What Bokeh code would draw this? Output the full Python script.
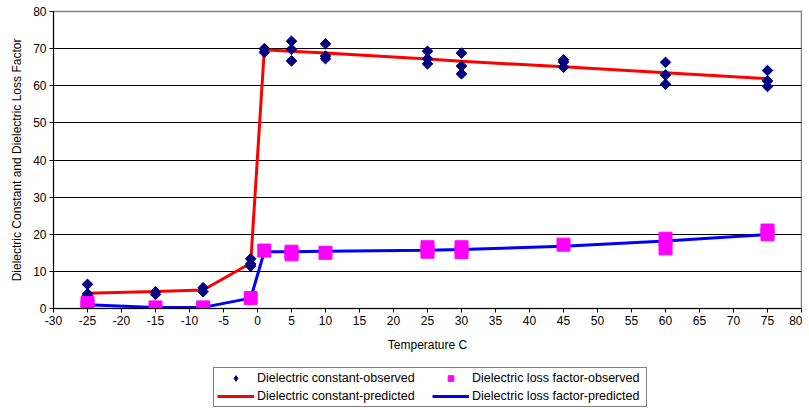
from bokeh.plotting import figure
from bokeh.layouts import column
from bokeh.models import Legend, LegendItem, FixedTicker, Range1d
from bokeh.embed import file_html
from bokeh.resources import INLINE

# observed dielectric constant (temperature, value)
obs_const_t = [-25, -25, -25, -15, -15, -8, -8, -1, -1, -1, 1, 1,
               5, 5, 5, 10, 10, 10, 25, 25, 25, 30, 30, 30,
               45, 45, 45, 60, 60, 60, 75, 75, 75]
obs_const_v = [6.5, 4.0, 3.5, 4.5, 3.8, 5.6, 4.5, 13.4, 12.0, 11.4, 70.0, 69.0,
               72.0, 69.8, 66.7, 71.3, 68.0, 67.3, 69.3, 67.3, 65.9, 68.8, 65.3, 63.2,
               67.0, 66.4, 65.0, 66.3, 62.9, 60.4, 64.1, 61.3, 59.8]

# observed dielectric loss factor
obs_loss_t = [-25, -25, -15, -8, -1, 1, 5, 5, 10, 25, 25, 30, 30, 45, 60, 60, 75, 75]
obs_loss_v = [1.5, 0.5, 0.3, 0.3, 2.8, 15.6, 15.3, 14.6, 15.0, 16.5, 15.3, 16.5, 15.2,
              17.2, 18.8, 16.2, 21.0, 20.0]

# predicted curves
pred_t = [-25, -15, -8, -1, 1, 5, 10, 25, 30, 45, 60, 75]
pred_const = [4.1, 4.6, 5.0, 12.2, 69.7, 69.3, 68.8, 67.2, 66.6, 65.1, 63.5, 61.9]
pred_loss = [1.0, 0.3, 0.3, 2.8, 15.3, 15.3, 15.4, 15.7, 15.9, 16.8, 18.2, 19.9]

legend_labels = ["Dielectric constant-observed", "Dielectric loss factor-observed",
                 "Dielectric constant-predicted", "Dielectric loss factor-predicted"]

x_ticks = list(range(-30, 85, 5))
y_ticks = list(range(0, 90, 10))
x_tick_labels = {t: str(t) for t in x_ticks}
y_tick_labels = {t: str(t) for t in y_ticks}

FONT = "Liberation Sans"
NAVY, MAGENTA, RED, BLUE = "#000080", "#FF00FF", "#FF0000", "#0000FF"

p = figure(frame_width=748, frame_height=297, output_backend="svg", toolbar_location=None,
           x_range=Range1d(-30, 80), y_range=Range1d(0, 80),
           min_border_left=53, min_border_right=1, min_border_top=11, min_border_bottom=46)

p.outline_line_color = "#808080"
p.outline_line_width = 1.5
p.xgrid.grid_line_color = None
p.ygrid.grid_line_color = "#000000"
p.ygrid.grid_line_width = 1

p.xaxis.ticker = FixedTicker(ticks=x_ticks)
p.yaxis.ticker = FixedTicker(ticks=y_ticks)
p.xaxis.major_label_overrides = x_tick_labels
p.yaxis.major_label_overrides = y_tick_labels
for ax in (p.xaxis[0], p.yaxis[0]):
    ax.axis_line_color = "#000000"
    ax.major_tick_line_color = "#000000"
    ax.major_tick_out = 4
    ax.major_tick_in = 0
    ax.minor_tick_line_color = None
    ax.major_label_text_font = FONT
    ax.major_label_text_font_size = "12px"
    ax.major_label_text_color = "#000000"
    ax.axis_label_text_font = FONT
    ax.axis_label_text_font_size = "12px"
    ax.axis_label_text_font_style = "normal"
    ax.axis_label_text_color = "#000000"

p.xaxis.major_label_standoff = 3
p.yaxis.major_label_standoff = 3
p.xaxis.axis_label = "Temperature C"
p.yaxis.axis_label = "Dielectric Constant and Dielectric Loss Factor"
p.xaxis.axis_label_standoff = 10
p.yaxis.axis_label_standoff = 6

p.line(pred_t, pred_const, line_color=RED, line_width=3)
p.line(pred_t, pred_loss, line_color=BLUE, line_width=3)
p.scatter(obs_const_t, obs_const_v, marker="square", angle=0.785398, size=7.5,
          fill_color=NAVY, line_color=NAVY)
p.scatter(obs_loss_t, obs_loss_v, marker="square", size=13,
          fill_color=MAGENTA, line_color=MAGENTA)

# legend strip below the chart; its sample renderers sit outside the strip's ranges
q = figure(width=802, height=56, output_backend="svg", toolbar_location=None,
           x_range=Range1d(0, 1), y_range=Range1d(0, 1), min_border=0)
q.axis.visible = False
q.grid.visible = False
q.outline_line_color = None
lq_const_obs = q.scatter([5], [5], marker="diamond", size=11,
                         fill_color=NAVY, line_color=NAVY)
lq_loss_obs = q.scatter([5], [5], marker="square", size=12,
                        fill_color=MAGENTA, line_color=MAGENTA)
lq_const_line = q.line([5, 6], [5, 6], line_color=RED, line_width=3)
lq_loss_line = q.line([5, 6], [5, 6], line_color=BLUE, line_width=3)

legend = Legend(items=[
    LegendItem(label=legend_labels[0], renderers=[lq_const_obs]),
    LegendItem(label=legend_labels[1], renderers=[lq_loss_obs]),
    LegendItem(label=legend_labels[2], renderers=[lq_const_line]),
    LegendItem(label=legend_labels[3], renderers=[lq_loss_line]),
], orientation="horizontal", ncols=2, location=(160, 3))
legend.label_text_font = FONT
legend.label_text_font_size = "12.5px"
legend.label_text_color = "#000000"
legend.glyph_width = 37
legend.glyph_height = 14
legend.label_height = 14
legend.label_width = 171
legend.label_standoff = 3
legend.spacing = 4
legend.padding = 3
legend.margin = 0
legend.border_line_color = "#000000"
legend.border_line_width = 1
legend.background_fill_color = "white"
q.add_layout(legend, "center")

layout = column(p, q, spacing=0)
open("out.html", "w").write(file_html(layout, INLINE))
